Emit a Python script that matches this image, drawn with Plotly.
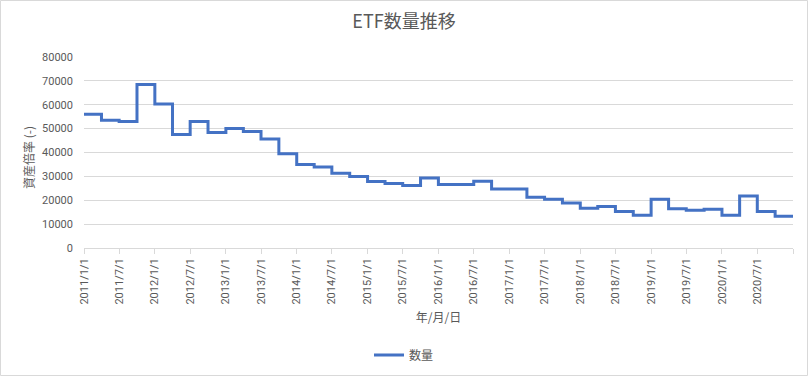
import pandas as pd
import plotly.graph_objects as go

# Quarterly data (start of each quarter), 2011Q1 .. 2020Q4, plus end point
dates = list(pd.date_range("2011-01-01", periods=40, freq="QS").strftime("%Y-%m-%d")) + ["2021-01-01"]
counts = [
    56000, 53500, 53000, 68500,
    60300, 47500, 53000, 48400,
    50100, 48800, 45700, 39500,
    35000, 33900, 31300, 30000,
    27900, 27000, 26200, 29300,
    26600, 26600, 28000, 24700,
    24700, 21300, 20400, 18800,
    16600, 17400, 15300, 13700,
    20400, 16400, 15800, 16200,
    13700, 21800, 15300, 13300,
]
counts = counts + [counts[-1]]

tick_dates = list(pd.date_range("2011-01-01", periods=21, freq="6MS").strftime("%Y-%m-%d"))
tick_labels = [f"{d.year}/{d.month}/1" for d in pd.to_datetime(tick_dates)]
tick_labels[-1] = ""

y_ticks = [0, 10000, 20000, 30000, 40000, 50000, 60000, 70000, 80000]

W, H = 808, 376
L, R, T, B = 84, 15, 57, 128
pw, ph = W - L - R, H - T - B

GRAY = "#595959"
CJK = "Noto Sans CJK JP"
NUM = "Roboto, Noto Sans CJK JP"

fig = go.Figure()
fig.add_trace(go.Scatter(
    x=dates, y=counts, mode="lines", name="数量",
    line=dict(color="#4472C4", width=3, shape="hv"),
))

fig.update_layout(
    template="none",
    width=W, height=H,
    margin=dict(l=L, r=R, t=T, b=B, autoexpand=False),
    paper_bgcolor="white", plot_bgcolor="white",
    title=dict(text="ETF数量推移", x=0.5, xanchor="center", xref="container",
               y=1 - 22 / H, yanchor="middle",
               font=dict(family=CJK, size=18, color=GRAY)),
    showlegend=True,
    legend=dict(orientation="h", x=(404 - L) / pw, xanchor="center",
                y=(H - B - 355) / ph, yanchor="middle",
                font=dict(family=CJK, size=12, color=GRAY)),
    xaxis=dict(
        type="date", range=["2011-01-01", "2021-01-01"], automargin=False,
        tickmode="array", tickvals=tick_dates, ticktext=tick_labels,
        tickangle=-90, ticks="outside", ticklen=5, tickcolor="#d9d9d9",
        showline=True, linecolor="#d9d9d9", linewidth=1,
        showgrid=False, zeroline=False,
        tickfont=dict(family=NUM, size=11, color=GRAY),
        title=dict(text="年/月/日", font=dict(family=CJK, size=12, color=GRAY), standoff=10),
    ),
    yaxis=dict(
        range=[0, 80000], tickmode="array", tickvals=y_ticks, automargin=False,
        ticktext=[str(v) for v in y_ticks],
        showgrid=True, gridcolor="#d9d9d9", gridwidth=1,
        zeroline=False, showline=False, ticks="",
        ticklabelstandoff=10,
        tickfont=dict(family=NUM, size=11, color=GRAY),
    ),
    annotations=[dict(
        text="資産倍率 (-)", textangle=-90, xref="paper", yref="paper",
        x=(28 - L) / pw, y=(H - B - 158) / ph, xanchor="center", yanchor="middle",
        showarrow=False, font=dict(family=CJK, size=12, color=GRAY),
    )],
    shapes=[dict(
        type="rect", xref="paper", yref="paper", layer="above",
        x0=(0.5 - L) / pw, x1=(W - 0.5 - L) / pw,
        y0=(H - B - (H - 0.5)) / ph, y1=(H - B - 0.5) / ph,
        line=dict(color="#d9d9d9", width=1), fillcolor="rgba(0,0,0,0)",
    )],
)

fig.write_html(
    "out.html",
    config={"displayModeBar": False},
    post_script="document.body.style.margin='0';document.body.style.overflow='hidden';",
)
